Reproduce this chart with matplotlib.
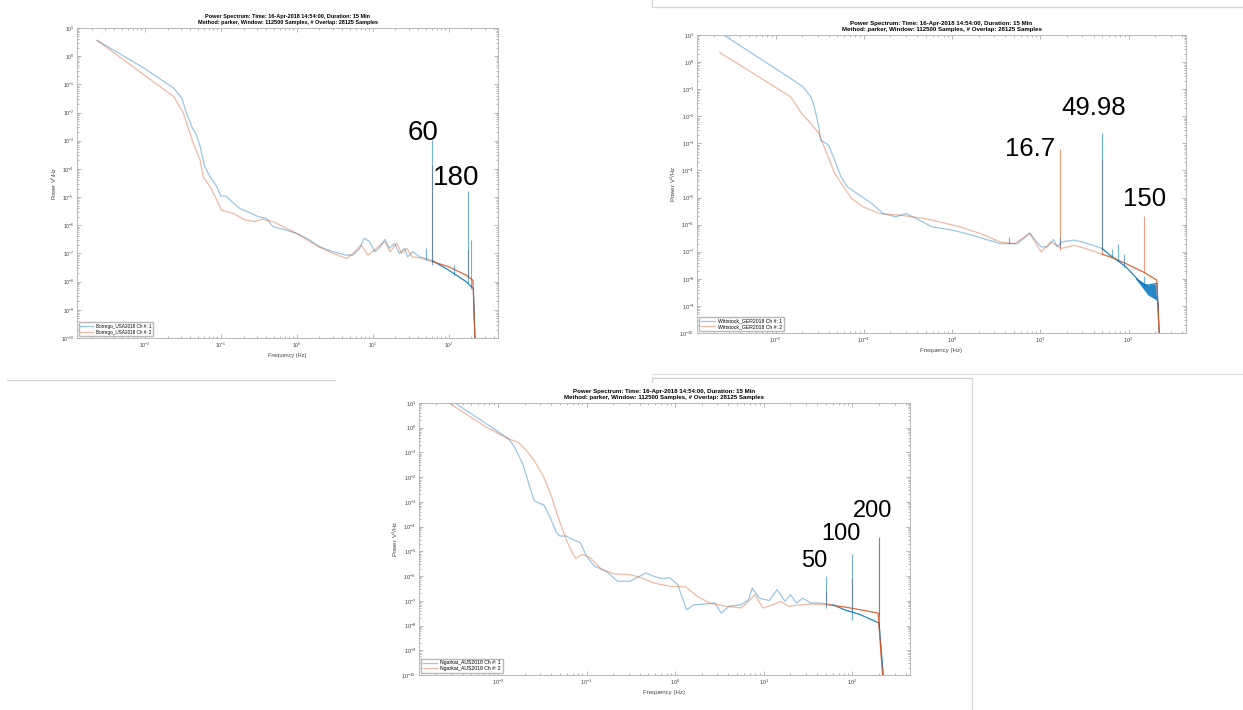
import numpy as np
import matplotlib.pyplot as plt
from matplotlib.lines import Line2D
from matplotlib.ticker import LogLocator, NullFormatter

# ---------------- Borrego (USA) ----------------
bor_f1 = [0.00237, 0.00977, 0.0240, 0.0309, 0.0355, 0.0417, 0.0479, 0.0537, 0.0617, 0.0724,
          0.0891, 0.100, 0.117, 0.141, 0.178, 0.240, 0.316, 0.398, 0.490, 0.661,
          1.00, 1.48, 2.00, 3.02, 4.47, 5.50, 6.76, 7.76, 9.12, 10.7,
          12.3, 14.5, 16.6, 19.5, 22.4, 26.3, 28.8, 33.9, 41.7, 61.7,
          100, 170, 212, 225]
bor_p1 = [0.56, -0.42, -1.13, -1.49, -2.02, -2.50, -2.79, -3.20, -3.92, -4.27,
          -4.63, -4.96, -4.96, -5.16, -5.40, -5.55, -5.70, -5.75, -6.05, -6.14,
          -6.29, -6.52, -6.76, -6.94, -7.06, -7.06, -6.82, -6.46, -6.58, -6.94,
          -6.80, -6.50, -6.82, -6.64, -7.00, -6.82, -7.12, -6.94, -7.12, -7.26,
          -7.59, -8.00, -8.25, -10.5]
bor_f2 = [0.00237, 0.00977, 0.0240, 0.0324, 0.0380, 0.0437, 0.0537, 0.0589, 0.0724, 0.0891,
          0.102, 0.148, 0.209, 0.282, 0.347, 0.490, 1.00, 1.86, 3.02, 4.57,
          5.50, 7.08, 8.71, 11.2, 14.5, 17.0, 20.9, 24.0, 28.2, 33.1,
          41.7, 61.7, 100, 170, 209, 225]
bor_p2 = [0.56, -0.66, -1.43, -2.02, -2.61, -3.09, -3.68, -4.27, -4.63, -5.10,
          -5.46, -5.58, -5.81, -5.87, -5.78, -5.87, -6.29, -6.74, -7.00, -7.18,
          -7.00, -6.70, -7.06, -6.82, -6.58, -6.94, -6.64, -7.00, -6.82, -7.12,
          -7.15, -7.29, -7.47, -7.77, -7.95, -10.5]
bor_spk1_f = [50.1, 60, 119, 180, 195]
bor_spk1_top = [-6.82, -2.97, -7.40, -4.77, -6.52]
bor_spk1_bot = [-7.22, -7.40, -7.75, -8.05, -8.25]
bor_spk2_f = [60, 180]
bor_spk2_top = [-3.86, -6.88]
bor_spk2_bot = [-7.30, -7.85]
bor_notes = ['60', '180']
bor_note_f = [46.7, 125]
bor_note_p = [-2.73, -4.33]

# ---------------- Wittstock (GER) ----------------
wit_f1 = [0.00237, 0.0148, 0.0204, 0.0251, 0.0275, 0.0309, 0.0324, 0.0398, 0.0468, 0.0550,
          0.0646, 0.0891, 0.123, 0.166, 0.229, 0.302, 0.389, 0.589, 1.00, 1.70,
          2.57, 3.55, 5.50, 6.76, 7.59, 8.71, 10.2, 12.0, 14.1, 15.5,
          17.4, 24.0, 32.4, 50.1, 61.7, 93.3, 129, 158, 209, 226]
wit_p1 = [1.08, -0.60, -0.91, -1.28, -1.65, -2.39, -2.88, -3.06, -3.62, -4.23,
          -4.60, -4.91, -5.22, -5.59, -5.71, -5.59, -5.77, -6.08, -6.20, -6.39,
          -6.57, -6.70, -6.70, -6.45, -6.30, -6.57, -6.82, -6.82, -6.55, -6.82,
          -6.64, -6.57, -6.67, -6.88, -7.13, -7.56, -8.05, -8.24, -8.17, -10.5]
wit_f2 = [0.00234, 0.0148, 0.0204, 0.0251, 0.0309, 0.0380, 0.0468, 0.0589, 0.0724, 0.0977,
          0.151, 0.257, 0.479, 0.724, 1.23, 2.09, 3.55, 5.13, 7.59, 10.2,
          13.2, 17.4, 24.0, 32.4, 50.1, 69.2, 93.3, 145, 195, 209, 225]
wit_p2 = [0.35, -1.28, -1.96, -2.26, -2.63, -3.37, -4.11, -4.60, -5.03, -5.34,
          -5.59, -5.65, -5.77, -5.90, -6.08, -6.33, -6.64, -6.70, -6.33, -7.00,
          -6.64, -6.88, -6.76, -6.88, -7.09, -7.25, -7.44, -7.74, -7.99, -8.05, -10.5]
wit_band_f = [120, 141, 166, 200, 218]
wit_band_lo = [-8.0, -8.3, -8.6, -8.75, -8.9]
wit_spk1_f = [3.0, 4.4, 16.7, 49.98, 65, 76, 89, 150]
wit_spk1_top = [-6.55, -6.45, -6.50, -2.63, -6.90, -6.70, -7.10, -7.90]
wit_spk1_bot = [-6.62, -6.72, -6.80, -6.95, -7.20, -7.35, -7.55, -8.25]
wit_spk2_f = [16.7, 49.98, 150]
wit_spk2_top = [-3.19, -3.62, -5.69]
wit_spk2_bot = [-6.95, -7.10, -7.80]
wit_notes = ['16.7', '49.98', '150']
wit_note_f = [7.6, 40.4, 151]
wit_note_p = [-3.22, -1.71, -5.07]

# ---------------- Ngarkat (AUS) ----------------
nga_f1 = [0.00237, 0.00741, 0.0132, 0.0155, 0.0191, 0.0224, 0.0257, 0.0331, 0.0389, 0.0457,
          0.0501, 0.0589, 0.0692, 0.0851, 0.100, 0.123, 0.166, 0.224, 0.309, 0.468,
          0.575, 0.708, 0.871, 1.07, 1.17, 1.35, 1.62, 2.19, 2.82, 3.31,
          4.07, 5.50, 6.76, 7.41, 8.91, 11.5, 14.1, 17.4, 20.0, 23.4,
          27.5, 33.9, 43.7, 60.3, 81.3, 123, 166, 200, 229]
nga_p1 = [1.34, 0.16, -0.45, -0.79, -1.47, -2.28, -2.96, -3.13, -3.63, -4.24,
          -4.38, -4.38, -4.51, -4.65, -5.19, -5.60, -5.80, -6.21, -6.21, -5.87,
          -6.01, -6.10, -6.07, -6.34, -6.75, -7.36, -7.16, -7.13, -7.09, -7.50,
          -7.22, -7.16, -6.95, -6.48, -6.89, -6.99, -6.55, -7.02, -6.75, -7.09,
          -6.89, -7.09, -7.09, -7.16, -7.36, -7.56, -7.77, -7.90, -10.5]
nga_f2 = [0.00237, 0.00741, 0.0132, 0.0170, 0.0209, 0.0257, 0.0331, 0.0407, 0.0479, 0.0589,
          0.0692, 0.0759, 0.0891, 0.110, 0.148, 0.204, 0.309, 0.417, 0.575, 0.871,
          1.32, 1.78, 2.45, 3.72, 5.50, 6.76, 7.94, 9.77, 12.6, 15.5,
          19.1, 26.3, 35.5, 53.7, 81.3, 123, 195, 224]
nga_p2 = [1.17, 0.02, -0.45, -0.59, -0.92, -1.33, -2.01, -2.82, -3.63, -4.51,
          -5.06, -5.29, -5.12, -5.26, -5.73, -5.91, -5.94, -6.07, -6.28, -6.41,
          -6.44, -6.82, -7.09, -7.22, -7.29, -7.02, -6.75, -7.29, -7.16, -7.02,
          -7.22, -7.16, -7.13, -7.16, -7.25, -7.36, -7.50, -10.5]
nga_spk1_f = [50, 100, 200]
nga_spk1_top = [-6.00, -5.10, -4.42]
nga_spk1_bot = [-7.30, -7.77, -8.20]
nga_spk2_f = [50, 100, 200]
nga_spk2_top = [-6.60, -6.07, -4.45]
nga_spk2_bot = [-7.20, -7.40, -7.60]
nga_notes = ['50', '100', '200']
nga_note_f = [37.5, 74, 170]
nga_note_p = [-5.40, -4.28, -3.36]

W, H = 1243, 710
BLUE, ORANGE = '#0072BD', '#D95319'
TITLE = ('Power Spectrum: Time: 16-Apr-2018 14:54:00, Duration: 15 Min\n'
         'Method: parker, Window: 112500 Samples, # Overlap: 28125 Samples')

plt.rcParams['font.family'] = ['Liberation Sans', 'DejaVu Sans']
plt.rcParams['mathtext.default'] = 'regular'

fig = plt.figure(figsize=(W / 100, H / 100), dpi=100)


def px_axes(x0, y0, x1, y1):
    return fig.add_axes([x0 / W, 1 - y1 / H, (x1 - x0) / W, (y1 - y0) / H])


def px_line(x0, y0, x1, y1, color='#d4d4d4'):
    fig.add_artist(Line2D([x0 / W, x1 / W], [1 - y0 / H, 1 - y1 / H],
                          transform=fig.transFigure, color=color, lw=0.9))


def draw_curve(ax, f, logp, color, label):
    f = np.array(f)
    p = 10.0 ** np.array(logp)
    ax.plot(f, p, color=color, alpha=0.4, lw=0.9, label=label)
    hi = f >= 45
    ax.plot(f[hi], p[hi], color=color, alpha=0.85, lw=0.7)


def draw_spikes(ax, f, top, bot, color):
    ax.vlines(f, 10.0 ** np.array(bot), 10.0 ** np.array(top), color=color, alpha=0.55, lw=0.8)


def style_axes(ax, fsize):
    ax.set_xscale('log')
    ax.set_yscale('log')
    ax.set_xlim(10 ** -2.89, 10 ** 2.65)
    ax.set_ylim(1e-10, 10)
    ax.set_xticks([1e-2, 1e-1, 1e0, 1e1, 1e2])
    ax.set_yticks([10.0 ** k for k in range(-10, 2)])
    ax.xaxis.set_minor_locator(LogLocator(base=10, subs=range(2, 10), numticks=20))
    ax.yaxis.set_minor_locator(LogLocator(base=10, subs=range(2, 10), numticks=30))
    ax.xaxis.set_minor_formatter(NullFormatter())
    ax.yaxis.set_minor_formatter(NullFormatter())
    ax.tick_params(which='both', direction='in', top=True, right=True,
                   labelsize=fsize - 0.3, colors='#9a9a9a', labelcolor='#444444', width=0.5, pad=2)
    ax.tick_params(which='major', length=3)
    ax.tick_params(which='minor', length=1.5)
    for s in ax.spines.values():
        s.set_color('#b0b0b0')
        s.set_linewidth(0.6)
    ax.set_title(TITLE, fontsize=fsize, fontweight='bold', pad=3, linespacing=1.15)
    ax.set_xlabel('Frequency (Hz)', fontsize=fsize, color='#444444', labelpad=2)
    ax.set_ylabel('Power V$^2$/Hz', fontsize=fsize, color='#444444', labelpad=1)
    ax.legend(loc='lower left', fontsize=fsize - 0.7, fancybox=False, edgecolor='#b8b8b8',
              framealpha=1, borderaxespad=0.4, borderpad=0.35, labelspacing=0.15,
              handlelength=2.8, handletextpad=0.6)


panels = [
    ((77, 28, 498, 338), 'Borrego_USA2018', bor_f1, bor_p1, bor_f2, bor_p2,
     (bor_spk1_f, bor_spk1_top, bor_spk1_bot), (bor_spk2_f, bor_spk2_top, bor_spk2_bot),
     bor_notes, bor_note_f, bor_note_p, 4.0, 20, None),
    ((697, 35, 1186, 333), 'Wittstock_GER2018', wit_f1, wit_p1, wit_f2, wit_p2,
     (wit_spk1_f, wit_spk1_top, wit_spk1_bot), (wit_spk2_f, wit_spk2_top, wit_spk2_bot),
     wit_notes, wit_note_f, wit_note_p, 4.4, 18.5, (wit_band_f, wit_band_lo)),
    ((419, 403, 910, 675), 'Ngarkat_AUS2018', nga_f1, nga_p1, nga_f2, nga_p2,
     (nga_spk1_f, nga_spk1_top, nga_spk1_bot), (nga_spk2_f, nga_spk2_top, nga_spk2_bot),
     nga_notes, nga_note_f, nga_note_p, 4.4, 17, None),
]

for (rect, site, f1, p1, f2, p2, spk1, spk2, notes, nf, npw, fsize, big, band) in panels:
    ax = px_axes(*rect)
    draw_curve(ax, f1, p1, BLUE, site + ' Ch #: 1')
    draw_curve(ax, f2, p2, ORANGE, site + ' Ch #: 2')
    draw_spikes(ax, *spk2, ORANGE)
    draw_spikes(ax, *spk1, BLUE)
    if band is not None:
        bf = np.array(band[0])
        upper = 10.0 ** np.interp(np.log10(bf), np.log10(f1), p1)
        ax.fill_between(bf, 10.0 ** np.array(band[1]), upper, color=BLUE, alpha=0.85, lw=0)
    for txt, x, y in zip(notes, nf, npw):
        ax.text(x, 10.0 ** y, txt, fontsize=big, ha='center', va='center',
                family=['Liberation Sans Narrow', 'Liberation Sans', 'DejaVu Sans'])
    style_axes(ax, fsize)

# thin frame lines of the pasted screenshots
px_line(7, 380, 335, 380)
px_line(652, 0, 652, 7)
px_line(652, 7, 1243, 7)
px_line(652, 374, 1243, 374, '#e2e2e2')
px_line(652, 378, 972, 378, '#cfcfcf')
px_line(652, 378, 652, 382, '#cfcfcf')
px_line(972, 378, 972, 710, '#d8d8d8')

fig.savefig('out.png', dpi=100)
